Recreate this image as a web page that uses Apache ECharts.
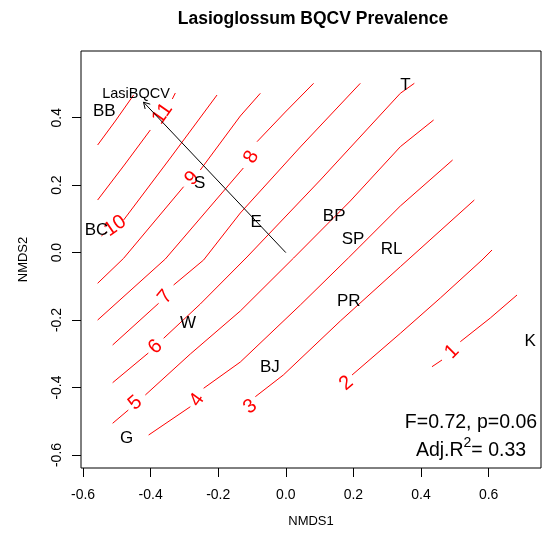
<!DOCTYPE html>
<html>
<head>
<meta charset="utf-8">
<script src="https://cdn.jsdelivr.net/npm/echarts@6/dist/echarts.min.js"></script>
<style>
  html, body { margin: 0; padding: 0; background: #fff; }
  #chart { width: 542px; height: 537px; }
</style>
</head>
<body>
<div id="chart"></div>
<script>
// Site scores (NMDS1, NMDS2)
const siteNames = ['BB', 'BC', 'S', 'E', 'T', 'BP', 'SP', 'RL', 'PR', 'K', 'W', 'BJ', 'G'];
const siteX = [-0.537, -0.560, -0.255, -0.088, 0.354, 0.143, 0.199, 0.313, 0.186, 0.723, -0.289, -0.047, -0.471];
const siteY = [0.420, 0.065, 0.206, 0.089, 0.495, 0.109, 0.040, 0.010, -0.143, -0.263, -0.211, -0.341, -0.551];

// Fitted vector
const vectorName = 'LasiBQCV';
const vectorTip = [-0.421, 0.446];
const vectorLabelAt = [-0.443, 0.470];

// Fitted surface contours; null marks the gap left for the level label
const contour1 = [[0.4325, -0.3383], [0.4621, -0.3184], null, [0.5163, -0.2642], [0.6050, -0.1939], [0.6840, -0.1257]];
const contour2 = [null, [0.1959, -0.3629], [0.3388, -0.2393], [0.4571, -0.1346], [0.5805, -0.0219], [0.6101, 0.0077]];
const contour3 = [null, [-0.0902, -0.4272], [-0.0074, -0.3629], [0.1612, -0.2028], [0.3388, -0.0418], [0.5577, 0.1559]];
const contour4 = [[-0.4059, -0.5408], [-0.2825, -0.4569], null, [-0.2432, -0.4023], [-0.1346, -0.3244], [0.0429, -0.1554], [0.1849, -0.0160], [0.3388, 0.1382], [0.4935, 0.2745]];
const contour5 = [[-0.5124, -0.5061], [-0.4660, -0.4667], null, [-0.4157, -0.4222], [-0.2825, -0.3006], [-0.1346, -0.1731], [0.0231, -0.0160], [0.1908, 0.1530], [0.3388, 0.3140], [0.4373, 0.3931]];
const contour6 = [[-0.5124, -0.3857], [-0.4068, -0.2977], null, [-0.3615, -0.2541], [-0.2530, -0.1524], [-0.1148, -0.0130], [0.1021, 0.2152], [0.3388, 0.4723], [0.3802, 0.5019]];
const contour7 = [[-0.5124, -0.2739], [-0.3763, -0.1503], null, [-0.3320, -0.0961], [-0.2432, -0.0219], [-0.1346, 0.1174], [0.0429, 0.3131], [0.2204, 0.5019]];
const contour8 = [[-0.5568, -0.2000], [-0.3565, -0.0190], [-0.1257, 0.2508], null, [-0.0852, 0.3288], [-0.0015, 0.4168], [0.0822, 0.5019]];
const contour9 = [[-0.5568, -0.0910], [-0.4799, -0.0169], [-0.3024, 0.1954], null, [-0.2530, 0.2449], [-0.1346, 0.4050], [-0.0754, 0.4723]];
const contour10 = [[-0.5459, 0.0492], [-0.5311, 0.0611], null, [-0.4799, 0.0967], [-0.3417, 0.2805], [-0.2036, 0.4672]];
const contour11 = [[-0.5568, 0.1559], [-0.4778, 0.2597], [-0.4009, 0.3635], null, [-0.3358, 0.4554], [-0.3269, 0.4732]];
const contour12 = [[-0.5568, 0.3190], [-0.5044, 0.3902], [-0.4503, 0.4672]];
const contours = [contour1, contour2, contour3, contour4, contour5, contour6, contour7, contour8, contour9, contour10, contour11, contour12];

// Contour level labels
const contourLabelLevels = [1, 2, 3, 4, 5, 6, 7, 8, 9, 10, 11];
const contourLabelX = [0.4917, 0.1790, -0.1050, -0.2627, -0.4453, -0.3861, -0.3565, -0.1021, -0.2775, -0.5050, -0.3650];
const contourLabelY = [-0.2938, -0.3875, -0.4569, -0.4370, -0.4459, -0.2799, -0.1316, 0.2834, 0.2203, 0.0789, 0.4120];

// Axis ticks
const xTicks = [-0.6, -0.4, -0.2, 0.0, 0.2, 0.4, 0.6];
const yTicks = [-0.6, -0.4, -0.2, 0.0, 0.2, 0.4];

// Model summary
const fStat = '0.72';
const pValue = '0.06';
const adjR2 = '0.33';

const FONT = '"Liberation Sans", Arial, Helvetica, sans-serif';
const RED = '#ff0000';

const chart = echarts.init(document.getElementById('chart'), null, { renderer: 'canvas' });

// Split each contour into continuous segments
const contourSeries = [];
contours.forEach((c) => {
  let seg = [];
  const flush = () => {
    if (seg.length > 1) {
      contourSeries.push({
        type: 'line', data: seg, showSymbol: false, symbol: 'none', silent: true,
        animation: false, z: 2, clip: false,
        lineStyle: { color: RED, width: 1 }
      });
    }
    seg = [];
  };
  c.forEach(p => { if (p === null) flush(); else seg.push(p); });
  flush();
});

// Label follows the direction of the contour around its gap
function labelAngle(api, level) {
  const c = contours[level - 1];
  const gap = c.indexOf(null);
  let a, b;
  if (gap > 0 && gap < c.length - 1) { a = c[gap - 1]; b = c[gap + 1]; }
  else { a = c[gap + 1]; b = c[gap + 2]; }
  const pa = api.coord(a), pb = api.coord(b);
  return Math.atan2(pa[1] - pb[1], pb[0] - pa[0]);
}

const option = {
  animation: false,
  backgroundColor: '#fff',
  grid: { left: 81, top: 51, width: 460, height: 417, show: true, borderColor: '#000', borderWidth: 1, backgroundColor: 'transparent' },
  xAxis: {
    type: 'value', min: -0.606, max: 0.755,
    name: 'NMDS1', nameLocation: 'middle', nameGap: 47,
    nameTextStyle: { fontFamily: FONT, fontSize: 13, color: '#000' },
    axisLine: { show: false, onZero: false },
    splitLine: { show: false },
    axisTick: { show: true, length: 9, customValues: xTicks, lineStyle: { color: '#000', width: 1 } },
    axisLabel: { customValues: xTicks, formatter: v => v.toFixed(1), fontFamily: FONT, fontSize: 14, color: '#000', margin: 20 }
  },
  yAxis: {
    type: 'value', min: -0.6386, max: 0.5977,
    name: 'NMDS2', nameLocation: 'middle', nameGap: 51, nameRotate: 90,
    nameTextStyle: { fontFamily: FONT, fontSize: 13, color: '#000' },
    axisLine: { show: false, onZero: false },
    splitLine: { show: false },
    axisTick: { show: true, length: 9, customValues: yTicks, lineStyle: { color: '#000', width: 1 } },
    axisLabel: { customValues: yTicks, formatter: v => v.toFixed(1), fontFamily: FONT, fontSize: 14, color: '#000', margin: 17, rotate: 90 }
  },
  graphic: [
    { type: 'text', x: 313, y: 19, silent: true,
      style: { text: 'Lasioglossum BQCV Prevalence', font: 'bold 17.5px ' + FONT, fill: '#000', align: 'center', verticalAlign: 'middle' } },
    { type: 'text', x: 471, y: 423, silent: true,
      style: { text: 'F=' + fStat + ', p=' + pValue, font: '19.5px ' + FONT, fill: '#000', align: 'center', verticalAlign: 'middle' } },
    { type: 'text', x: 471, y: 451, silent: true,
      style: {
        text: '{a|Adj.R}{s|2}{a|= ' + adjR2 + '}', align: 'center', verticalAlign: 'middle',
        rich: {
          a: { fontFamily: FONT, fontSize: 19.5, fill: '#000', lineHeight: 30, verticalAlign: 'middle' },
          s: { fontFamily: FONT, fontSize: 14, fill: '#000', verticalAlign: 'top', lineHeight: 16 }
        }
      } }
  ],
  series: [
    ...contourSeries,
    {
      type: 'custom', z: 3, silent: true, clip: false,
      data: contourLabelLevels.map((lv, i) => [contourLabelX[i], contourLabelY[i], lv]),
      renderItem: (params, api) => {
        const p = api.coord([api.value(0), api.value(1)]);
        const lv = api.value(2);
        return {
          type: 'text', x: p[0], y: p[1], rotation: labelAngle(api, lv),
          style: { text: String(lv), font: '20px ' + FONT, fill: RED, align: 'center', verticalAlign: 'middle' }
        };
      }
    },
    {
      type: 'custom', z: 4, silent: true, clip: false,
      data: [[0, 0, vectorTip[0], vectorTip[1]]],
      renderItem: (params, api) => {
        const o = api.coord([api.value(0), api.value(1)]);
        const t = api.coord([api.value(2), api.value(3)]);
        const ang = Math.atan2(t[1] - o[1], t[0] - o[0]);
        const L = 7, w = Math.PI / 6;
        const h1 = [t[0] - L * Math.cos(ang - w), t[1] - L * Math.sin(ang - w)];
        const h2 = [t[0] - L * Math.cos(ang + w), t[1] - L * Math.sin(ang + w)];
        return {
          type: 'group', children: [
            { type: 'line', shape: { x1: o[0], y1: o[1], x2: t[0], y2: t[1] }, style: { stroke: '#000', lineWidth: 1 } },
            { type: 'polyline', shape: { points: [h1, t, h2] }, style: { stroke: '#000', lineWidth: 1, fill: null } }
          ]
        };
      }
    },
    {
      type: 'custom', z: 5, silent: true, clip: false,
      data: [[vectorLabelAt[0], vectorLabelAt[1]]],
      renderItem: (params, api) => {
        const p = api.coord([api.value(0), api.value(1)]);
        return { type: 'text', x: p[0], y: p[1],
          style: { text: vectorName, font: '14.5px ' + FONT, fill: '#000', align: 'center', verticalAlign: 'middle' } };
      }
    },
    {
      type: 'custom', z: 6, silent: true, clip: false,
      data: siteNames.map((n, i) => [siteX[i], siteY[i]]),
      renderItem: (params, api) => {
        const p = api.coord([api.value(0), api.value(1)]);
        return { type: 'text', x: p[0], y: p[1],
          style: { text: siteNames[params.dataIndex], font: '17px ' + FONT, fill: '#000', align: 'center', verticalAlign: 'middle' } };
      }
    }
  ]
};

chart.setOption(option);
</script>
</body>
</html>
